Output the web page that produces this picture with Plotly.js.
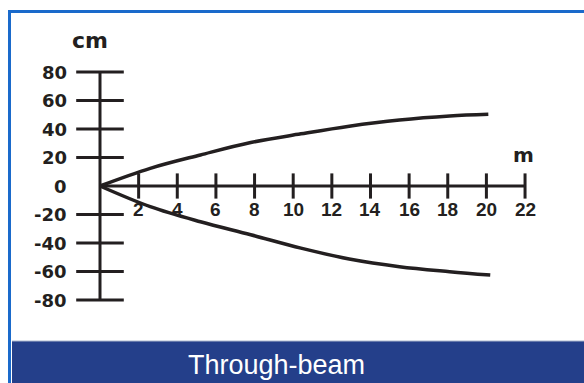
<!DOCTYPE html>
<html>
<head>
<meta charset="utf-8">
<script src="https://cdn.plot.ly/plotly-3.0.1.min.js"></script>
<style>
  html, body { margin: 0; padding: 0; background: #fff; }
  #plot { width: 584px; height: 383px; }
</style>
</head>
<body>
<div id="plot"></div>
<script>
// distance in m, spread in cm
const xTicks = [2, 4, 6, 8, 10, 12, 14, 16, 18, 20, 22];
const yTicks = [80, 60, 40, 20, 0, -20, -40, -60, -80];

const upperX = [0, 2.6, 5.2, 7.8, 10.4, 12.9, 15.5, 18.1, 20.1];
const upperY = [0, 12.4, 21.8, 30.5, 36.6, 42.0, 46.3, 49.1, 50.3];
const lowerX = [0, 2.6, 5.2, 7.8, 10.4, 12.9, 15.5, 18.1, 20.2];
const lowerY = [0, -14.5, -25.1, -34.2, -43.6, -51.2, -56.6, -60.1, -62.5];

const ink = '#231f20';
const W = 584, H = 383;
// where the origin sits and how many px per unit
const ox = 100, oy = 186, sx = 19.32, sy = 1.425;

const xMax = xTicks[xTicks.length - 1];
const yMax = Math.max(...yTicks), yMin = Math.min(...yTicks);

const traces = [
  { x: [0, 0], y: [yMin, yMax], mode: 'lines', line: { color: ink, width: 3 } },
  { x: [0, xMax], y: [0, 0], mode: 'lines', line: { color: ink, width: 3 } },
  {
    x: xTicks, y: xTicks.map(() => 0), mode: 'markers',
    marker: { symbol: 'line-ns', size: 18, line: { color: ink, width: 3 } }
  },
  {
    x: yTicks.filter(v => v !== 0).map(() => 0), y: yTicks.filter(v => v !== 0), mode: 'markers',
    marker: { symbol: 'line-ew', size: 34, line: { color: ink, width: 3 } }
  },
  { x: upperX, y: upperY, mode: 'lines', line: { color: ink, width: 3.5, shape: 'spline', smoothing: 1 } },
  { x: lowerX, y: lowerY, mode: 'lines', line: { color: ink, width: 3.5, shape: 'spline', smoothing: 1 } }
];

const lab = { family: 'Liberation Sans, Arial, sans-serif', size: 19, color: ink, weight: 'bold' };
const wide = { family: 'DejaVu Sans, sans-serif', size: 18, color: ink, weight: 'bold' };
const annotations = [];
yTicks.forEach(v => annotations.push({
  x: 0, y: v, text: String(v), showarrow: false,
  xanchor: 'right', yanchor: 'middle', xshift: -31, font: wide
}));
xTicks.forEach(v => annotations.push({
  x: v, y: 0, text: String(v), showarrow: false,
  xanchor: 'center', yanchor: 'top', yshift: -11, font: lab
}));
annotations.push({ x: 0, y: yMax, text: 'cm', showarrow: false, xshift: -10, yshift: 32,
  font: Object.assign({}, wide, { size: 22 }) });
annotations.push({ x: xMax, y: 0, text: 'm', showarrow: false, xshift: -2, yshift: 31,
  font: Object.assign({}, wide, { size: 20 }) });
annotations.push({ xref: 'paper', yref: 'paper', x: 276 / W, y: 1 - 365 / H,
  text: 'Through-beam', showarrow: false, xanchor: 'center', yanchor: 'middle',
  font: { family: 'Liberation Sans, Arial, sans-serif', size: 27, color: '#ffffff' } });

const shapes = [
  { type: 'rect', xref: 'paper', yref: 'paper', x0: 12 / W, x1: 1.01, y0: -0.01, y1: 1 - 341 / H,
    fillcolor: '#243f8a', line: { width: 0 }, layer: 'below' },
  { type: 'line', xref: 'paper', yref: 'paper', x0: 12 / W, x1: 1.01, y0: 1 - 341 / H, y1: 1 - 341 / H,
    line: { color: '#aab6cc', width: 1 }, layer: 'below' },
  { type: 'line', xref: 'paper', yref: 'paper', x0: 9.5 / W, x1: 9.5 / W, y0: -0.01, y1: 1 - 10 / H,
    line: { color: '#1a6acb', width: 3 }, layer: 'below' },
  { type: 'line', xref: 'paper', yref: 'paper', x0: 8 / W, x1: 1.01, y0: 1 - 11.5 / H, y1: 1 - 11.5 / H,
    line: { color: '#1a6acb', width: 3 }, layer: 'below' }
];

const layout = {
  width: W, height: H,
  margin: { l: 0, r: 0, t: 0, b: 0 },
  paper_bgcolor: '#ffffff', plot_bgcolor: 'rgba(0,0,0,0)',
  showlegend: false,
  xaxis: { range: [-ox / sx, (W - ox) / sx], visible: false, fixedrange: true },
  yaxis: { range: [-(H - oy) / sy, oy / sy], visible: false, fixedrange: true },
  annotations: annotations,
  shapes: shapes
};

Plotly.newPlot('plot', traces.map(t => Object.assign({ hoverinfo: 'skip', cliponaxis: false }, t)), layout, { staticPlot: true });
</script>
</body>
</html>
